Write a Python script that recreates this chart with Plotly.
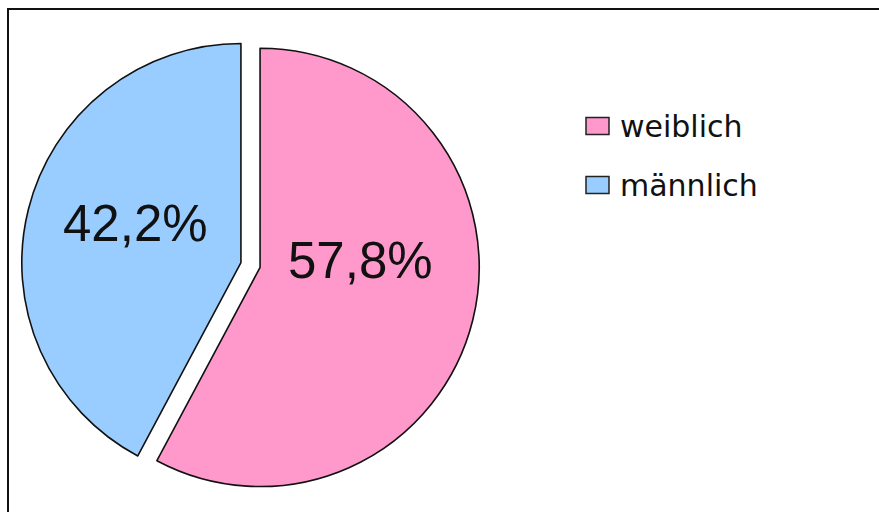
import plotly.graph_objects as go

# ---- data ----
labels = ["weiblich", "männlich"]
values = [57.8, 42.2]
colors = ["#FF99CC", "#99CCFF"]

W, H = 879, 512


def px(x):
    return x / W


def py(y):
    return 1 - y / H


fig = go.Figure()
fig.add_trace(go.Pie(
    labels=labels,
    values=values,
    sort=False,
    direction="clockwise",
    rotation=0,
    pull=[0.045, 0.045],
    marker=dict(colors=colors, line=dict(color="#111111", width=1.6)),
    textinfo="none",
    hoverinfo="label+percent",
    showlegend=False,
    domain=dict(x=[px(21.5), px(479.5)], y=[py(494), py(36)]),
))

total = sum(values)
label_pos = [(360, 260), (135, 223)]
annotations = []
for v, (lx, ly) in zip(values, label_pos):
    txt = f"{100 * v / total:.1f}%".replace(".", ",")
    annotations.append(dict(
        x=px(lx), y=py(ly), xref="paper", yref="paper",
        text=txt, showarrow=False, xanchor="center", yanchor="middle",
        font=dict(family="Liberation Sans, Arial, sans-serif", size=51, color="#111111"),
    ))

shapes = [
    # outer chart border (top and left visible, rest cropped)
    dict(type="rect", xref="paper", yref="paper",
         x0=px(8), x1=1.02, y0=-0.02, y1=py(9),
         line=dict(color="#111111", width=2), fillcolor="rgba(0,0,0,0)", layer="above"),
]

# manual legend
leg_y = [126, 185]
for lab, col, yy in zip(labels, colors, leg_y):
    shapes.append(dict(type="rect", xref="paper", yref="paper",
                       x0=px(586), x1=px(609), y0=py(yy + 8.5), y1=py(yy - 8.5),
                       line=dict(color="#222222", width=1.5), fillcolor=col))
    annotations.append(dict(
        x=px(618), y=py(yy), xref="paper", yref="paper",
        text=lab, showarrow=False, xanchor="left", yanchor="middle",
        font=dict(family="DejaVu Sans, sans-serif", size=30, color="#111111"),
    ))

fig.update_layout(
    width=W, height=H,
    margin=dict(l=0, r=0, t=0, b=0),
    paper_bgcolor="white",
    plot_bgcolor="white",
    annotations=annotations,
    shapes=shapes,
)

fig.write_html("out.html")
